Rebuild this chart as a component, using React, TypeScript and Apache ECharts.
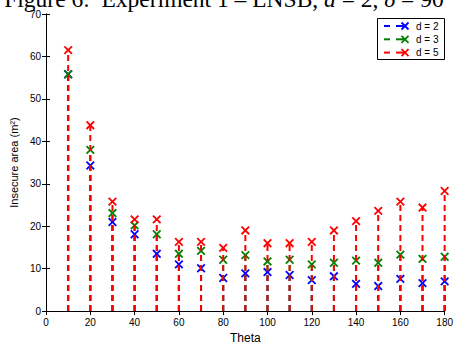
import React, { useEffect, useRef } from "react";
import * as echarts from "echarts";

const theta = [10, 20, 30, 40, 50, 60, 70, 80, 90, 100, 110, 120, 130, 140, 150, 160, 170, 180];
const d2 = [55.8, 34.3, 21.0, 18.1, 13.5, 11.0, 10.1, 7.8, 8.9, 9.2, 8.5, 7.3, 8.2, 6.4, 5.9, 7.6, 6.6, 7.0];
const d3 = [55.8, 38.0, 23.1, 20.2, 18.1, 13.5, 14.2, 12.1, 13.2, 11.7, 12.1, 11.0, 11.4, 11.9, 11.4, 13.3, 12.3, 12.8];
const d5 = [61.5, 43.8, 25.8, 21.6, 21.6, 16.3, 16.3, 14.9, 19.0, 16.0, 16.0, 16.3, 19.0, 21.2, 23.6, 25.8, 24.4, 28.3];
const seriesNames = ["d = 2", "d = 3", "d = 5"];
const seriesColors = ["#0000ff", "#008000", "#ff0000"];
const xTicks = { min: 0, max: 180, interval: 20 };
const yTicks = { min: 0, max: 70, interval: 10 };

const FONT = "Liberation Sans";

function makeRender(color: string) {
  return (params: any, api: any) => {
    const x = api.value(0);
    const v = api.value(1);
    const base = api.coord([x, 0]);
    const top = api.coord([x, v]);
    const s = 3.8;
    return {
      type: "group",
      children: [
        {
          type: "line",
          shape: { x1: base[0], y1: base[1], x2: top[0], y2: top[1] },
          style: { stroke: color, lineWidth: 2, lineDash: [6, 4] },
        },
        {
          type: "line",
          shape: { x1: top[0] - s, y1: top[1] - s, x2: top[0] + s, y2: top[1] + s },
          style: { stroke: color, lineWidth: 1.8 },
        },
        {
          type: "line",
          shape: { x1: top[0] - s, y1: top[1] + s, x2: top[0] + s, y2: top[1] - s },
          style: { stroke: color, lineWidth: 1.8 },
        },
      ],
    };
  };
}

export default function App() {
  const ref = useRef<HTMLDivElement>(null);
  useEffect(() => {
    if (!ref.current) return;
    const chart = echarts.init(ref.current, null, { renderer: "svg" });
    const data = [d2, d3, d5];
    const axisCommon = {
      type: "value" as const,
      axisLine: { show: true, lineStyle: { color: "#000", width: 1 } },
      axisTick: { show: true, inside: true, length: 4, lineStyle: { color: "#000" } },
      splitLine: { show: false },
    };
    const legendChildren: any[] = [
      {
        type: "rect",
        shape: { x: 377.5, y: 18.5, width: 67, height: 41 },
        style: { fill: "#fff", stroke: "#000", lineWidth: 1 },
      },
    ];
    seriesNames.forEach((name, i) => {
      const y = 26 + i * 13.3;
      const c = seriesColors[i];
      legendChildren.push(
        { type: "line", shape: { x1: 384, y1: y, x2: 390, y2: y }, style: { stroke: c, lineWidth: 2 } },
        { type: "line", shape: { x1: 396, y1: y, x2: 405, y2: y }, style: { stroke: c, lineWidth: 2 } },
        { type: "line", shape: { x1: 401.5, y1: y - 3.5, x2: 408.5, y2: y + 3.5 }, style: { stroke: c, lineWidth: 1.8 } },
        { type: "line", shape: { x1: 401.5, y1: y + 3.5, x2: 408.5, y2: y - 3.5 }, style: { stroke: c, lineWidth: 1.8 } },
        {
          type: "text",
          style: { x: 416, y, text: name, fill: "#000", font: `10px "${FONT}"`, verticalAlign: "middle" },
        }
      );
    });
    chart.setOption({
      animation: false,
      backgroundColor: "#fff",
      grid: { left: 40, right: 8, top: 14, bottom: 29, containLabel: false },
      xAxis: [
        {
          ...axisCommon,
          ...xTicks,
          position: "bottom",
          name: "Theta",
          nameLocation: "middle",
          nameGap: 14,
          nameTextStyle: { fontFamily: FONT, fontSize: 12, color: "#000" },
          axisLabel: { fontFamily: FONT, fontSize: 10, color: "#000", margin: 6 },
        },
        {
          ...axisCommon,
          ...xTicks,
          position: "top",
          axisLabel: { show: false },
        },
      ],
      yAxis: [
        {
          ...axisCommon,
          ...yTicks,
          position: "left",
          name: "Insecure area (m²)",
          nameLocation: "middle",
          nameGap: 19,
          nameTextStyle: { fontFamily: FONT, fontSize: 11, color: "#000" },
          axisLabel: { fontFamily: FONT, fontSize: 10, color: "#000", margin: 5 },
        },
        {
          ...axisCommon,
          ...yTicks,
          position: "right",
          axisLabel: { show: false },
        },
      ],
      series: seriesNames.map((name, i) => ({
        type: "custom",
        name,
        xAxisIndex: 0,
        yAxisIndex: 0,
        data: theta.map((t, j) => [t, data[i][j]]),
        renderItem: makeRender(seriesColors[i]),
        z: 2 + i,
      })),
      graphic: [
        {
          type: "text",
          z: 100,
          style: {
            x: 224,
            y: 11,
            align: "center",
            verticalAlign: "bottom",
            text: "{a|Figure 6:  Experiment 1 – LNSB, }{i|d}{a| = 2, }{i|δ}{a| = 90}",
            rich: {
              a: { fontFamily: "Liberation Serif", fontSize: 23.5, fill: "#000", color: "#000" },
              i: { fontFamily: "Liberation Serif", fontSize: 23.5, fontStyle: "italic", fill: "#000", color: "#000" },
            },
          },
        },
        { type: "group", z: 100, children: legendChildren },
      ],
    });
    return () => chart.dispose();
  }, []);
  return <div ref={ref} style={{ width: 456, height: 349, position: "absolute", left: 0, top: 0 }} />;
}
